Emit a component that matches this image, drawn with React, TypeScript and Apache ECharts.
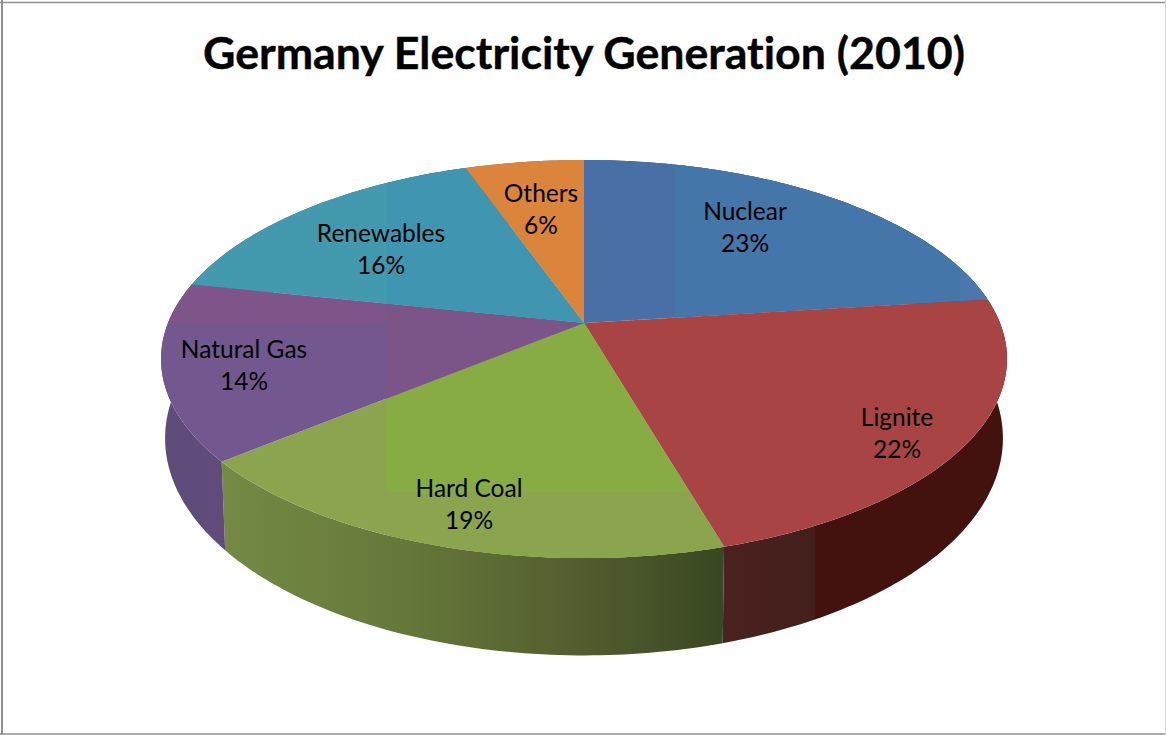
import React, { useEffect, useRef } from "react";
import * as echarts from "echarts";

const CHART_TITLE = "Germany Electricity Generation (2010)";
const SOURCES = ["Nuclear", "Lignite", "Hard Coal", "Natural Gas", "Renewables", "Others"];
const SHARES = [23, 22, 19, 14, 16, 6];

// Centre of each two-line slice label.
const LABEL_CENTRES = [
  [745, 226],
  [897, 432],
  [469, 503],
  [244, 364],
  [381, 248],
  [541, 208],
];

const FONT = "Lato, Carlito, 'Open Sans', sans-serif";

// Perspective projection of the pie disc: top face and the base below it.
const APEX_X = 584;
const TILT = -0.181;
const TOP_FACE = { apexY: 323, scaleX: 416, scaleY: 192.5 };
const BASE_FACE = { apexY: 399, scaleX: 412, scaleY: 210 };
const ANGLE_SKEW = (3.15 * Math.PI) / 180;

type Stop = [number, string];
type Block = { x0: number; y0: number; x1: number; y1: number; fill: string };

const hStops = (x0: number, x1: number, stops: Stop[]) =>
  new echarts.graphic.LinearGradient(
    x0, 0, x1, 0,
    stops.map(([offset, color]) => ({ offset, color })),
    true,
  );

// Base colour of each top face, then the lighter or darker tiles laid over it.
const TOP_FILLS = ["#4870A6", "#A84444", "#8BA44E", "#72588F", "#439AAE", "#DB843C"];
const TOP_TILES: Block[][] = [
  [
    { x0: 674, y0: 0, x1: 1166, y1: 735, fill: "#4476AA" },
    { x0: 960, y0: 270, x1: 1166, y1: 735, fill: "#4B78AC" },
  ],
  [],
  [
    { x0: 386, y0: 300, x1: 800, y1: 492, fill: "#87AC44" },
    { x0: 386, y0: 492, x1: 800, y1: 735, fill: "#8BA44E" },
  ],
  [
    { x0: 150, y0: 250, x1: 386, y1: 324, fill: "#7F5488" },
    { x0: 386, y0: 250, x1: 600, y1: 400, fill: "#7B5488" },
  ],
  [{ x0: 386, y0: 150, x1: 600, y1: 330, fill: "#4095B0" }],
  [],
];

const WALL_FILLS = [
  "#2F4F78",
  hStops(722, 1000, [[0, "#4A2220"], [0.335, "#431F1B"], [0.335, "#43120F"], [1, "#43120F"]]),
  hStops(219, 722, [[0, "#748A45"], [0.35, "#67793A"], [0.7, "#535F30"], [0.9, "#434F27"], [1, "#384820"]]),
  hStops(161, 230, [[0, "#5E4C78"], [1, "#614B7C"]]),
  "#2E6D82",
  "#A0602B",
];

const TOTAL = SHARES.reduce((sum, v) => sum + v, 0);

const project = (turn: number, face: typeof TOP_FACE) => {
  const raw = turn * Math.PI * 2;
  const angle = raw + ANGLE_SKEW * Math.max(0, -Math.sin(2 * raw));
  const x = Math.sin(angle);
  const y = -Math.cos(angle);
  const d = 1 + TILT * y;
  return [APEX_X + (face.scaleX * x) / d, face.apexY + (face.scaleY * y) / d];
};

const rim = (from: number, to: number, face: typeof TOP_FACE) => {
  const steps = Math.max(4, Math.ceil((to - from) * 360));
  const pts: number[][] = [];
  for (let i = 0; i <= steps; i++) pts.push(project(from + ((to - from) * i) / steps, face));
  return pts;
};

const sliceSpan = (index: number) => {
  const start = SHARES.slice(0, index).reduce((sum, v) => sum + v, 0) / TOTAL;
  return [start, start + SHARES[index] / TOTAL];
};

export default function App() {
  const ref = useRef<HTMLDivElement>(null);

  useEffect(() => {
    document.body.style.margin = "0";
    document.body.style.background = "#ffffff";
    const chart = echarts.init(ref.current!, undefined, { renderer: "svg" });
    const data = SHARES.map((value, i) => ({ name: SOURCES[i], value }));
    chart.setOption({
      animation: false,
      backgroundColor: "#ffffff",
      title: {
        text: CHART_TITLE,
        left: 579,
        top: 24,
        textAlign: "center",
        textStyle: {
          fontFamily: FONT,
          fontWeight: "bold",
          fontSize: 44.7,
          color: "#000000",
          textBorderColor: "#000000",
          textBorderWidth: 0.4,
        },
      },
      graphic: [
        { type: "line", shape: { x1: 2, y1: 0, x2: 2, y2: 735 }, style: { stroke: "#8f8f8f", lineWidth: 2 } },
        { type: "line", shape: { x1: 0, y1: 2.5, x2: 1166, y2: 2.5 }, style: { stroke: "#8f8f8f", lineWidth: 1.5 } },
        { type: "line", shape: { x1: 0, y1: 734, x2: 1166, y2: 734 }, style: { stroke: "#8f8f8f", lineWidth: 1.5 } },
        { type: "line", shape: { x1: 1165.5, y1: 0, x2: 1165.5, y2: 735 }, style: { stroke: "#d8d8d8", lineWidth: 1 } },
      ],
      series: [
        {
          type: "custom",
          coordinateSystem: "none",
          silent: true,
          z: 1,
          data,
          renderItem: (params: any) => {
            const [from, to] = sliceSpan(params.dataIndex);
            const points = [...rim(from, to, TOP_FACE), ...rim(from, to, BASE_FACE).reverse()];
            return { type: "polygon", shape: { points }, style: { fill: WALL_FILLS[params.dataIndex] } };
          },
        },
        {
          type: "custom",
          coordinateSystem: "none",
          silent: true,
          z: 2,
          data,
          renderItem: (params: any) => {
            const i = params.dataIndex;
            const [from, to] = sliceSpan(i);
            const points = [[APEX_X, TOP_FACE.apexY], ...rim(from, to, TOP_FACE)];
            return {
              type: "group",
              children: [
                { type: "polygon", shape: { points }, style: { fill: TOP_FILLS[i] } },
                ...TOP_TILES[i].map((tile) => ({
                  type: "polygon",
                  shape: { points },
                  style: { fill: tile.fill },
                  clipPath: {
                    type: "rect",
                    shape: { x: tile.x0, y: tile.y0, width: tile.x1 - tile.x0, height: tile.y1 - tile.y0 },
                  },
                })),
              ],
            };
          },
        },
        {
          type: "custom",
          coordinateSystem: "none",
          silent: true,
          z: 3,
          data,
          renderItem: (params: any, api: any) => {
            const i = params.dataIndex;
            return {
              type: "text",
              x: LABEL_CENTRES[i][0],
              y: LABEL_CENTRES[i][1],
              style: {
                text: `${SOURCES[i]}\n${Math.round(api.value(0))}%`,
                fontFamily: FONT,
                fontSize: 24.5,
                lineHeight: 32,
                fill: "#000000",
                align: "center",
                verticalAlign: "middle",
              },
            };
          },
        },
      ],
    });
    return () => chart.dispose();
  }, []);

  return <div ref={ref} style={{ width: 1166, height: 735, fontVariantLigatures: "none" }} />;
}
